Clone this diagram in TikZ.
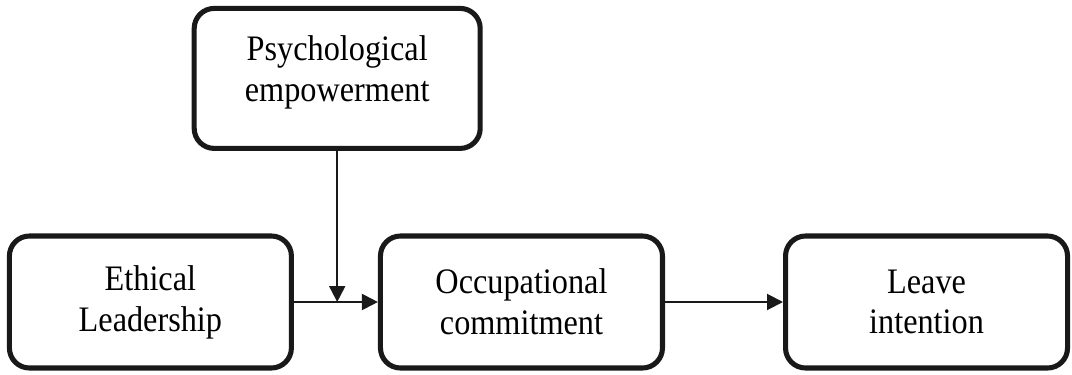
\documentclass[tikz,border=0pt]{standalone}
\usepackage{fontspec}
\setmainfont[FakeStretch=0.9]{Liberation Serif}
\usetikzlibrary{arrows.meta,positioning}

\begin{document}
\begin{tikzpicture}[
  boxnode/.style={
    draw=black!90,
    line width=3.6pt,
    rounded corners=0.5cm,
    minimum width=7.05cm,
    minimum height=3.3cm,
    align=center,
    font=\fontsize{25.5}{29}\selectfont
  },
  linkarrow/.style={
    -{Triangle[length=0.4cm,width=0.4cm]},
    line width=1.4pt,
    draw=black!90
  },
  node distance=2.1cm
  ]
  \useasboundingbox (0,0) rectangle (26.8,-9.35);

  \node[boxnode] (ethical) at (3.76,-7.55) {Ethical\\Leadership};

  \node[boxnode, right=of ethical] (occupational) {Occupational\\commitment};

  \node[boxnode, right=2.95cm of occupational] (leave) {Leave\\intention};

  \node[boxnode, minimum width=7.15cm, minimum height=3.5cm, text depth=0.5cm] (psych) at (8.43,-1.96) {Psychological\\empowerment};

  \coordinate (meet) at (psych.south |- ethical.east);

  \draw[linkarrow] (ethical) -- (occupational);
  \draw[linkarrow] (psych) -- (meet);
  \draw[linkarrow] (occupational) -- (leave);

\end{tikzpicture}
\end{document}
